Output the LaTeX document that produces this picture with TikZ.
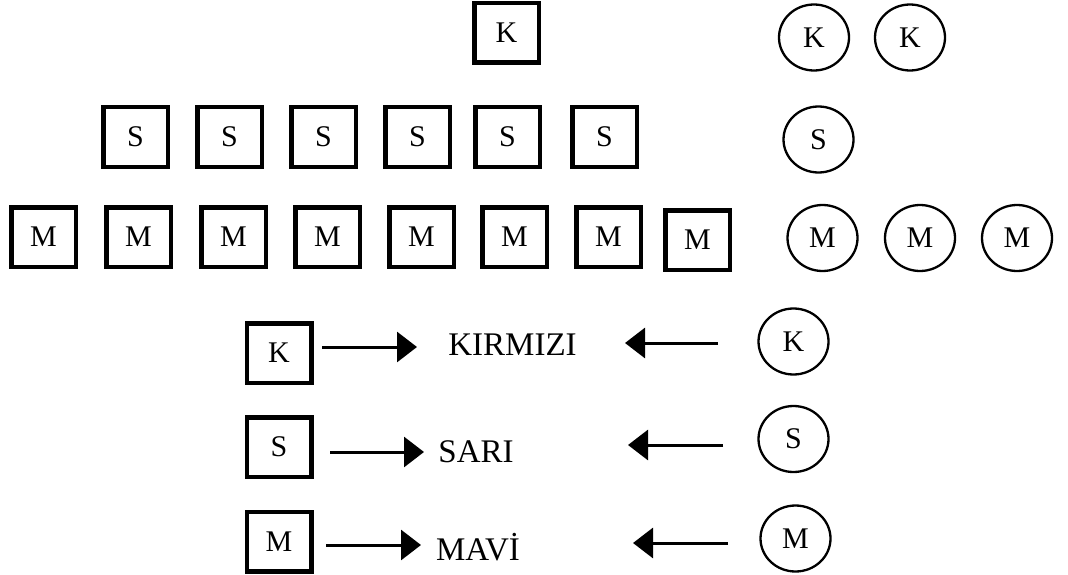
\documentclass[tikz,border=0pt]{standalone}
\usepackage{fontspec}
\setmainfont{Liberation Serif}
\usetikzlibrary{arrows.meta,shapes.geometric}
\tikzset{
  sq/.style={draw, line width=4.5pt, minimum width=64.5pt, minimum height=59.5pt, inner sep=0pt, font=\fontsize{30}{32}\selectfont},
  cir/.style={draw, ellipse, line width=2.3pt, minimum width=70pt, minimum height=66pt, inner sep=0pt, font=\fontsize{30}{32}\selectfont},
  lbl/.style={inner sep=0pt, font=\fontsize{33}{35}\selectfont},
  arr/.style={line width=3pt, -{Triangle[length=20pt,width=30pt]}}
}
\begin{document}
\begin{tikzpicture}[x=1pt,y=-1pt]
\useasboundingbox (0,0) rectangle (1068,575);
% top row
\node[sq] (k0) at (506.5,33) {K};
\node[cir] (ck1) at (814,37.5) {K};
\node[cir] (ck2) at (910,37.5) {K};
% S row
\node[sq] (s1) at (135.5,137) {S};
\node[sq] (s2) at (229.5,137) {S};
\node[sq] (s3) at (323.5,137) {S};
\node[sq] (s4) at (417.5,137) {S};
\node[sq] (s5) at (507.5,137) {S};
\node[sq] (s6) at (604.5,137) {S};
\node[cir] (cs1) at (818.5,139.5) {S};
% M row
\node[sq] (m1) at (43.5,237) {M};
\node[sq] (m2) at (138.5,237) {M};
\node[sq] (m3) at (233.5,237) {M};
\node[sq] (m4) at (327.5,237) {M};
\node[sq] (m5) at (421.5,237) {M};
\node[sq] (m6) at (514.5,237) {M};
\node[sq] (m7) at (608.5,237) {M};
\node[sq] (m8) at (697.5,240) {M};
\node[cir] (cm1) at (822.5,238) {M};
\node[cir] (cm2) at (920,238) {M};
\node[cir] (cm3) at (1017,238) {M};
% legend
\node[sq] (kb) at (279,353) {K};
\node[sq] (sb) at (279,447) {S};
\node[sq] (mb) at (279,541.5) {M};
\node[lbl] (kir) at (512.5,345) {KIRMIZI};
\node[lbl] (sar) at (476,452) {SARI};
\node[lbl] (mav) at (478,547) {MAVİ};
\node[cir] (kc) at (793.5,341.5) {K};
\node[cir] (sc) at (793.5,439) {S};
\node[cir] (mc) at (795.5,538.5) {M};
\coordinate (ka) at (322,347); \coordinate (kt) at (417,347);
\coordinate (sa) at (330,452); \coordinate (st) at (424,452);
\coordinate (ma) at (326,545); \coordinate (mt) at (421,545);
\coordinate (kc1) at (718,343); \coordinate (kc2) at (625,343);
\coordinate (sc1) at (723,445); \coordinate (sc2) at (628,445);
\coordinate (mc1) at (728,543); \coordinate (mc2) at (633,543);
\draw[arr] (ka) -- (kt);
\draw[arr] (sa) -- (st);
\draw[arr] (ma) -- (mt);
\draw[arr] (kc1) -- (kc2);
\draw[arr] (sc1) -- (sc2);
\draw[arr] (mc1) -- (mc2);
\end{tikzpicture}
\end{document}
